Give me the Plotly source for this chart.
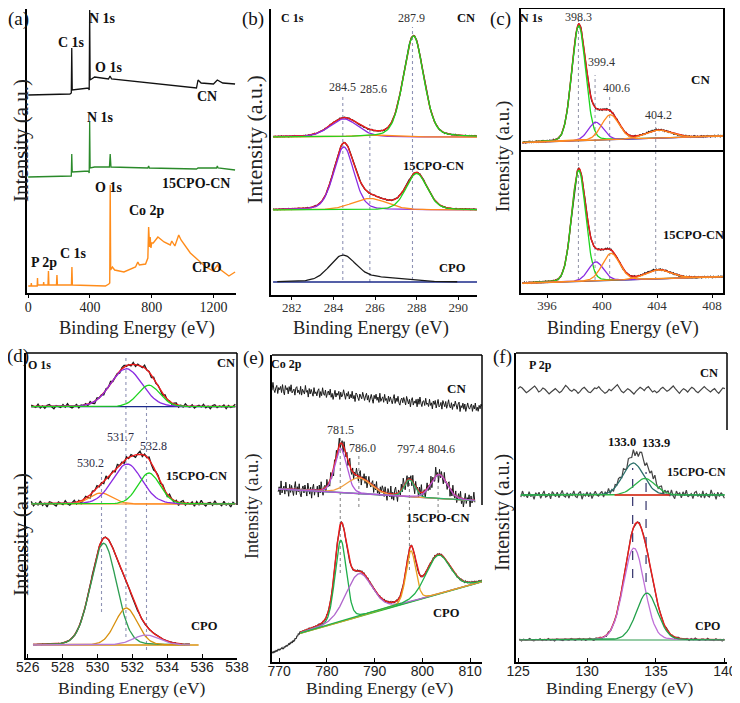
import numpy as np
import plotly.graph_objects as go

# the page has an 8 px body margin: the figure is placed at (8, 8) in the 740x703 window
OFF = 8
FW, FH = 740 - OFF, 703 - OFF

# ---------------- (a) survey spectra: binding energy (eV) / intensity (a.u.) ----------------
A_CN_E = [0, 270, 279, 282, 285, 390, 395, 398, 401, 430, 520, 530, 540, 800, 1090, 1100, 1120, 1200, 1225, 1260, 1340]
A_CN_I = [198, 199, 200, 245, 203, 205, 203, 283, 213, 216, 214, 217, 214, 210, 205, 213, 210, 209, 213, 210, 209]
A_15_E = [0, 270, 279, 282, 285, 390, 395, 398, 401, 430, 526, 531, 536, 775, 780, 785, 1000, 1090, 1100, 1220, 1225, 1230, 1340]
A_15_I = [116, 117, 117, 139, 121, 122, 120, 171, 125, 126, 126, 139, 126, 125, 127, 125, 124, 124, 125, 125, 127, 125, 123]
A_CPO_E = [0, 18, 20, 22, 58, 60, 62, 98, 100, 102, 128, 131, 134, 183, 186, 189, 280, 283, 286,
           500, 522, 528, 531, 534, 545, 560, 620, 695, 710, 720, 760, 775, 780, 786, 790, 795, 800,
           810, 840, 880, 920, 930, 950, 975, 990, 1050, 1150, 1200, 1225, 1240, 1300, 1340]
A_CPO_I = [7, 7, 10, 7, 7, 15, 8, 8, 11, 8, 8, 22, 8, 8, 18, 8, 8, 26, 8,
           7, 9, 10, 108, 23, 26, 23, 21, 26, 31, 28, 29, 35, 66, 46, 56, 45, 50,
           50, 56, 51, 48, 52, 47, 58, 53, 40, 26, 22, 28, 24, 17, 21]

# ---------------- fitted peaks: centre (eV), height (a.u.), FWHM (eV) ----------------
# (b) C 1s
B_CN_BASE = [158, 158]
B_CN_C, B_CN_H, B_CN_W = [284.5, 285.8, 287.85], [18, 2, 101], [1.6, 2.0, 1.15]
B_15_BASE = [85, 85]
B_15_C, B_15_H, B_15_W = [284.5, 285.75, 288.0], [63, 11.5, 36.5], [1.15, 2.0, 1.2]
B_CPO_BASE = [13, 13]
B_CPO_C, B_CPO_H, B_CPO_W = [284.45, 286.3], [26, 4], [1.5, 2.5]
# (c) N 1s
C_CN_BASE = [150.3, 157]
C_CN_C, C_CN_H, C_CN_W = [398.3, 399.55, 400.6, 404.1], [115, 18, 25, 8], [1.2, 1.3, 1.5, 2.2]
C_15_BASE = [9.7, 16.3]
C_15_C, C_15_H, C_15_W = [398.3, 399.55, 400.65, 404.1], [111, 19, 27, 9], [1.2, 1.3, 1.5, 2.2]
# (d) O 1s
D_CN_BASE = [251.3, 251.3]
D_CN_C, D_CN_H, D_CN_W = [531.65, 532.95], [38, 21.5], [2.1, 1.5]
D_15_BASE = [154, 154]
D_15_C, D_15_H, D_15_W = [530.2, 531.7, 532.95], [11, 40, 31], [1.5, 2.0, 1.5]
D_CPO_BASE = [13, 13]
D_CPO_C, D_CPO_H, D_CPO_W = [530.35, 531.65, 532.8], [101.7, 37, 10], [1.75, 1.5, 1.8]
# (e) Co 2p
E_CN_BASE = [273.7, 253.7]
E_15_BASE = [173, 161.3]
E_15_C, E_15_H, E_15_W = [782.9, 786.7, 797.3, 803.5], [44, 16, 17, 24], [3.0, 6.0, 2.6, 4.0]
E_CPO_BG_E = [768.5, 771, 773.1, 774.4, 812.5]
E_CPO_BG_I = [8.7, 13.7, 20.3, 28.7, 80.3]
E_CPO_C, E_CPO_H, E_CPO_W = [782.9, 786.7, 797.6, 803.3], [81.5, 43, 51, 39], [2.8, 6.5, 2.4, 6.0]
# (f) P 2p
F_CN_BASE = [272, 272]
F_15_BASE = [167, 167]
F_15_C, F_15_H, F_15_W = [133.35, 134.2], [32, 16.5], [1.8, 1.8]
F_CPO_BASE = [22, 22]
F_CPO_C, F_CPO_H, F_CPO_W = [133.4, 134.35], [92, 47], [1.8, 1.8]

# dotted guide lines: position (eV), top and bottom (a.u.)
B_DASH_E, B_DASH_TOP, B_DASH_BOT = [284.45, 285.75, 287.8], [198, 171, 268], [15, 13, 15]
C_DASH_E, C_DASH_TOP, C_DASH_BOT = [398.28, 399.49, 400.55, 403.9], [276, 218, 196, 173], [13, 13, 13, 13]
D_DASH_E, D_DASH_TOP, D_DASH_BOT = [530.23, 531.63, 532.81], [186, 300, 255], [46, 21, 8]
E_DASH_E, E_DASH_TOP, E_DASH_BOT = [782.8, 786.7, 797.3, 803.3], [225, 209, 179, 185], [89, 155, 92, 149]
F_DASH_E, F_DASH_TOP, F_DASH_BOT = [133.31, 134.28], [194, 190], [84, 80]

# measured residual scatter of the raw spectra (hand read, unit = 1/9 of amplitude)
NOISE = [
    3, -4, 6, -2, -7, 5, 1, -3, 8, -5, 2, -6, 4, 7, -1, -8, 3, 0, -4, 6,
    -3, 9, -2, -6, 1, 5, -7, 2, -1, 4, -5, 7, -3, -8, 6, 0, 3, -6, 5, -2,
    8, -4, -1, 2, -7, 4, 6, -3, 1, -5, 7, -6, 3, -2, -4, 9, -1, 2, -8, 5,
    -3, 4, 0, -6, 7, -2, 1, -5, 3, 6, -7, 2, -4, 8, -1, -3, 5, -6, 0, 4,
    -2, 7, -5, 1, -8, 3, 6, -4, 2, -1, 5, -7, 4, -3, 0, 8, -2, -6, 3, -1,
    6, -5, 2, -3, 7, -4, 1, -8, 5, 3, -2, -6, 4, 0, -3, 7, -1, -5, 2, 6,
    -4, 3, -7, 1, 5, -2, -8, 4, -1, 6, -3, 2, -6, 8, -4, 0, 3, -5, 7, -2,
    1, -7, 5, -3, 4, -1, -6, 2, 8, -5, 3, -2, 6, -4, -7, 1, 4, -3, 5, 0,
    -6, 7, -1, -4, 3, -8, 2, 6, -5, 1, -2, 4, -7, 5, -3, 8, -1, -6, 2, 3,
    -4, 7, -2, 0, -5, 6, -3, 1, -8, 4, -1, 5, -6, 2, 7, -4, -2, 3, -7, 6,
    0, -3, 5, -5, 1, 8, -2, -4, 4, -6, 2, -1, 7, -3, -5, 3, 6, -8, 1, -2,
    5, -4, 4, -7, 0, 6, -1, -3, 2, 5, -6, 3, -2, 7, -4, 1, -5, 4, -1, 6]
# slower, irregular wiggles of the P 2p CN trace (hand read)
WIGGLE = [2, 5, 3, -1, -4, -2, 1, 4, 6, 2, -3, -1, 3, 1, -2, -6, -3, 0, 2, -1,
          -4, -2, 3, 7, 4, 0, -2, 1, -1, -5, -2, 2, 4, 1, -3, -4, 0, 3, 2, 5,
          1, -2, -5, -3, 1, -1, 2, 6, 8, 3, -2, -4, -1, 2, 0, -3, -6, -2, 1, 4,
          2, -1, 3, 5, 1, -3, -1, -4, -2, 2, 4, 1, -2, 0, 3, 6, 2, -2, -5, -1,
          2, 0, -3, 1, 4, 2, -2, -4, -1, 3, 5, 2, -1, -3, 0, 2, -2, -5, -1, 3]

BLACK = '#1a1a1a'
RED = '#ee1c1c'
GREEN = '#1ed41e'
PURPLE = '#8a2be2'
ORANGE = '#ff8a1e'
NAVY = '#1b2a8a'
DGREEN = '#2e9e52'
DORANGE = '#d8900c'
LPURPLE = '#b57ad6'
TEAL = '#2a6f6a'
SERIF = '"Liberation Serif", "Times New Roman", "DejaVu Serif", serif'
SANS = '"Liberation Sans", Arial, sans-serif'

fig = go.Figure()


def X(px):
    return (px - OFF) / FW


def Y(py):
    return 1 - (py - OFF) / FH


def axn(k):
    return ('x' if k == 1 else f'x{k}'), ('y' if k == 1 else f'y{k}')


def add_line(k, x, y, color, width=1.3, dash=None):
    xa, ya = axn(k)
    fig.add_trace(go.Scatter(x=list(x), y=list(y), mode='lines',
                             line=dict(color=color, width=width, dash=dash),
                             xaxis=xa, yaxis=ya, showlegend=False, hoverinfo='skip'))


def pv(x, c, h, w, eta):
    d = (x - c) / w
    return h * ((1 - eta) * np.exp(-4 * np.log(2) * d * d) + eta / (1 + 4 * d * d))


def noise(n, amp, off, src=NOISE):
    return np.array([src[(off + i) % len(src)] for i in range(n)]) * amp / 9.0


def fitted(k, lo, hi, step, base, cen, hei, wid, cols, eta, amp, off,
           dcol=BLACK, dw=1.3, red=True, base_col=None, cw=1.3, src=NOISE):
    x = np.arange(lo, hi + step / 2, step)
    b = base[0] + (base[1] - base[0]) * (x - lo) / (hi - lo)
    comps = [pv(x, c, h, w, eta) for c, h, w in zip(cen, hei, wid)]
    tot = b + (np.sum(comps, axis=0) if comps else 0)
    if base_col:
        add_line(k, [lo, hi], base, base_col, 1.2)
    add_line(k, x, tot + noise(len(x), amp, off, src), dcol, dw)
    if red and comps:
        add_line(k, x, tot, RED, 1.4)
    for comp, col in zip(comps, cols):
        add_line(k, x, b + comp, col, cw)


def guides(k, xs, tops, bots, color, dash='dot', width=1.1):
    for e, t, b in zip(xs, tops, bots):
        add_line(k, [e, e], [b, t], color, width, dash)


# (a)
add_line(1, A_CN_E, A_CN_I, '#111111', 1.3)
add_line(1, A_15_E, A_15_I, '#2a8a2a', 1.3)
add_line(1, A_CPO_E, A_CPO_I, '#ff8c1a', 1.4)

# (b)
guides(2, B_DASH_E, B_DASH_TOP, B_DASH_BOT, '#8f93b5')
fitted(2, 281.1, 290.9, 0.05, B_CN_BASE, B_CN_C, B_CN_H, B_CN_W, [PURPLE, ORANGE, GREEN], 0.25, 0.6, 0)
fitted(2, 281.1, 290.9, 0.05, B_15_BASE, B_15_C, B_15_H, B_15_W, [PURPLE, ORANGE, GREEN], 0.25, 0.6, 40)
x_b = np.arange(281.3, 290.0, 0.05)
add_line(2, [281.1, 290.9], B_CPO_BASE, NAVY, 1.4)
add_line(2, x_b, B_CPO_BASE[0] + pv(x_b, B_CPO_C[0], B_CPO_H[0], B_CPO_W[0], 0.25)
         + pv(x_b, B_CPO_C[1], B_CPO_H[1], B_CPO_W[1], 0.25), BLACK, 1.3)

# (c)
guides(3, C_DASH_E, C_DASH_TOP, C_DASH_BOT, '#9a9cae')
fitted(3, 394.2, 408.8, 0.05, C_CN_BASE, C_CN_C, C_CN_H, C_CN_W, [GREEN, PURPLE, ORANGE, ORANGE], 0.1, 0.8, 10, base_col=NAVY)
fitted(3, 394.2, 408.8, 0.05, C_15_BASE, C_15_C, C_15_H, C_15_W, [GREEN, PURPLE, ORANGE, ORANGE], 0.1, 0.8, 70, base_col=NAVY)

# (d)
guides(4, D_DASH_E, D_DASH_TOP, D_DASH_BOT, '#8f93b5')
fitted(4, 526.2, 537.9, 0.13, D_CN_BASE, D_CN_C, D_CN_H, D_CN_W, [PURPLE, GREEN], 0.1, 2.6, 5, base_col=NAVY)
fitted(4, 526.2, 537.9, 0.13, D_15_BASE, D_15_C, D_15_H, D_15_W, [ORANGE, PURPLE, GREEN], 0.1, 3.6, 100, base_col=ORANGE)
add_line(4, [526.3, 535.8], D_CPO_BASE, DORANGE, 1.3)
fitted(4, 526.3, 535.3, 0.05, D_CPO_BASE, D_CPO_C, D_CPO_H, D_CPO_W, [DGREEN, DORANGE, LPURPLE], 0.1, 0.4, 150)

# (e)
guides(5, E_DASH_E, E_DASH_TOP, E_DASH_BOT, '#8a8a8a')
fitted(5, 768.5, 812.5, 0.2, E_CN_BASE, [], [], [], [], 0.2, 6.0, 20, dw=1.0)
fitted(5, 769.8, 811.0, 0.2, E_15_BASE, E_15_C, E_15_H, E_15_W, ['#b05ad8', '#f0a040', '#2fb36a', '#b05ad8'],
       0.2, 9.0, 130, dw=1.0, base_col='#3cc43c')
xe = np.arange(768.5, 812.55, 0.1)
bg_e = np.interp(xe, E_CPO_BG_E, E_CPO_BG_I)
comps_e = [pv(xe, c, h, w, 0.2) for c, h, w in zip(E_CPO_C, E_CPO_H, E_CPO_W)]
tot_e = bg_e + np.sum(comps_e, axis=0)
add_line(5, xe, tot_e + noise(len(xe), 1.2, 60), '#333333', 1.2)
add_line(5, [E_CPO_BG_E[3], E_CPO_BG_E[4]], [E_CPO_BG_I[3], E_CPO_BG_I[4]], '#2fc02f', 1.4)
m = xe >= E_CPO_BG_E[3]
add_line(5, xe[m], tot_e[m], RED, 1.4)
for comp, col in zip(comps_e, ['#1fae4a', '#b066cc', '#e8a020', '#22b14c']):
    add_line(5, xe[m], bg_e[m] + comp[m], col, 1.3)

# (f)
guides(6, F_DASH_E, F_DASH_TOP, F_DASH_BOT, '#33336b', dash='dash', width=1.2)
fitted(6, 125.0, 140.0, 0.15, F_CN_BASE, [], [], [], [], 0.1, 6.0, 0, dcol='#444444', dw=1.2, src=WIGGLE)
fitted(6, 125.2, 140.0, 0.12, F_15_BASE, F_15_C, F_15_H, F_15_W, [TEAL, '#2db34a'], 0.1, 5.0, 180,
       dcol='#444444', dw=1.2, red=False, base_col='#3cc43c')
add_line(6, [132.0, 136.0], F_15_BASE, RED, 1.3)
fitted(6, 125.1, 140.0, 0.15, F_CPO_BASE, F_CPO_C, F_CPO_H, F_CPO_W, ['#c070d8', '#22a04a'], 0.1, 1.5, 90,
       dcol='#444444', dw=1.2, base_col='#2f9a4f')

# ---------------- axes (pixel boxes in the 740x703 window) ----------------
PANELS = {1: (27, 236, 9, 293), 2: (271, 477, 9, 295), 3: (521, 723, 9, 293),
          4: (26, 237, 353, 658), 5: (272, 482, 355, 662), 6: (516, 727, 353, 662)}
XR = {1: [-8, 1346], 2: [281.0, 290.9], 3: [394.1, 408.8],
      4: [525.9, 538.0], 5: [768.5, 812.5], 6: [124.85, 140.15]}
TICKS = {1: [0, 400, 800, 1200], 2: [282, 284, 286, 288, 290], 3: [396, 400, 404, 408],
         4: [526, 528, 530, 532, 534, 536, 538], 5: [770, 780, 790, 800, 810], 6: [125, 130, 135, 140]}
TFONT = {1: dict(family=SERIF, size=14, color='#222'),
         2: dict(family=SERIF, size=13, color='#333'),
         3: dict(family=SERIF, size=13, color='#333'),
         4: dict(family=SANS, size=14, color='#222'),
         5: dict(family=SANS, size=14, color='#222'),
         6: dict(family=SANS, size=14, color='#222')}

layout = dict(width=FW, height=FH, margin=dict(l=0, r=0, t=0, b=0),
              plot_bgcolor='white', paper_bgcolor='white', showlegend=False)
for k, (l, r, t, b) in PANELS.items():
    xa, ya = axn(k)
    box = (k == 3)
    layout['xaxis' if k == 1 else f'xaxis{k}'] = dict(
        domain=[X(l), X(r)], range=XR[k], anchor=ya, showline=True, linecolor='black', linewidth=1.5,
        mirror=box, ticks='outside' if k <= 3 else 'inside', ticklen=3 if k <= 3 else 4,
        tickcolor='black', tickvals=TICKS[k], tickfont=TFONT[k], ticklabelstandoff=-3 if k <= 3 else -5,
        ticklabeloverflow='allow', showgrid=False, zeroline=False, automargin=False)
    layout['yaxis' if k == 1 else f'yaxis{k}'] = dict(
        domain=[Y(b), Y(t)], range=[0, b - t], anchor=xa, showline=True, linecolor='black',
        linewidth=1.5, mirror=box, showticklabels=False, ticks='', showgrid=False, zeroline=False,
        automargin=False)
fig.update_layout(**layout)


def seg(x0, y0, x1, y1, w=1.5):
    fig.add_shape(type='line', xref='paper', yref='paper', x0=X(x0), x1=X(x1),
                  y0=Y(y0), y1=Y(y1), line=dict(color='black', width=w))


seg(521, 151, 723, 151, 2)
seg(26, 353, 237, 353)
seg(237, 353, 237, 505)
seg(272, 355, 482, 355)
seg(482, 355, 482, 505)
seg(516, 353, 727, 353)
seg(727, 353, 727, 430)


def txt(s, px, py, size=12, bold=False, color='#111', angle=0, family=SERIF):
    fig.add_annotation(text=f'<b>{s}</b>' if bold else s, x=X(px), y=Y(py), xref='paper', yref='paper',
                       showarrow=False, xanchor='center', yanchor='middle', textangle=angle,
                       font=dict(family=family, size=size, color=color))


# panel letters
for s, px, py in [('(a)', 18, 19), ('(b)', 253, 19), ('(c)', 500, 19),
                  ('(d)', 18, 356), ('(e)', 253, 358), ('(f)', 502, 357)]:
    txt(s, px, py, 19)

# axis titles
for px, py, sz in [(137, 328, 18.5), (371, 328, 18.5), (623, 328, 18), (132, 688, 17.5), (380, 688, 17.5), (620, 688, 17.5)]:
    txt('Binding Energy (eV)', px, py, sz, color='#222')
for px, py, sz in [(21, 141, 21), (255, 140, 22), (503, 157, 19), (21, 535, 21), (253, 507, 18), (502, 513, 20)]:
    txt('Intensity (a.u.)', px, py, sz, color='#222', angle=-90)

# (a) labels
for s, px, py in [('C 1s', 71, 42), ('N 1s', 102, 18), ('O 1s', 109, 67), ('CN', 207, 97),
                  ('N 1s', 100, 117), ('15CPO-CN', 196, 183), ('O 1s', 109, 188), ('Co 2p', 147, 210),
                  ('P 2p', 44, 263), ('C 1s', 73, 253), ('CPO', 207, 267)]:
    txt(s, px, py, 14, bold=True)

# (b)
txt('C 1s', 292, 18, 12, True)
txt('CN', 466, 18, 12.5, True)
txt('284.5', 342, 87, 12, color='#333')
txt('285.6', 373, 89, 12, color='#333')
txt('287.9', 412, 18, 12, color='#333')
txt('15CPO-CN', 433, 166, 12.5, True)
txt('CPO', 453, 268, 12.5, True)
# (c)
txt('N 1s', 531, 18, 12, True)
txt('398.3', 578, 17, 12, color='#333')
txt('399.4', 601, 62, 12, color='#333')
txt('400.6', 616, 88, 12, color='#333')
txt('404.2', 658, 115, 12, color='#333')
txt('CN', 700, 80, 13, True)
txt('15CPO-CN', 693, 235, 12.5, True)
# (d)
txt('O 1s', 39, 365, 12, True)
txt('CN', 226, 363, 12.5, True)
txt('531.7', 120, 437, 12, color='#2b2b44')
txt('532.8', 153, 446, 12, color='#2b2b44')
txt('530.2', 90, 463, 12, color='#2b2b44')
txt('15CPO-CN', 196, 476, 12.5, True)
txt('CPO', 204, 626, 12.5, True)
# (e)
txt('Co 2p', 286, 364, 12, True)
txt('CN', 457, 388, 13, True)
txt('781.5', 340, 430, 12, color='#333')
txt('786.0', 362, 448, 12, color='#333')
txt('797.4', 410, 449, 12, color='#333')
txt('804.6', 441, 449, 12, color='#333')
txt('15CPO-CN', 438, 517, 13, True)
txt('CPO', 446, 613, 12.5, True)
# (f)
txt('P 2p', 540, 365, 12, True)
txt('CN', 709, 373, 12.5, True)
txt('133.0', 622, 442, 12.5, True)
txt('133.9', 656, 443, 12.5, True)
txt('15CPO-CN', 696, 472, 12, True)
txt('CPO', 707, 626, 12, True)

fig.write_html('out.html')
